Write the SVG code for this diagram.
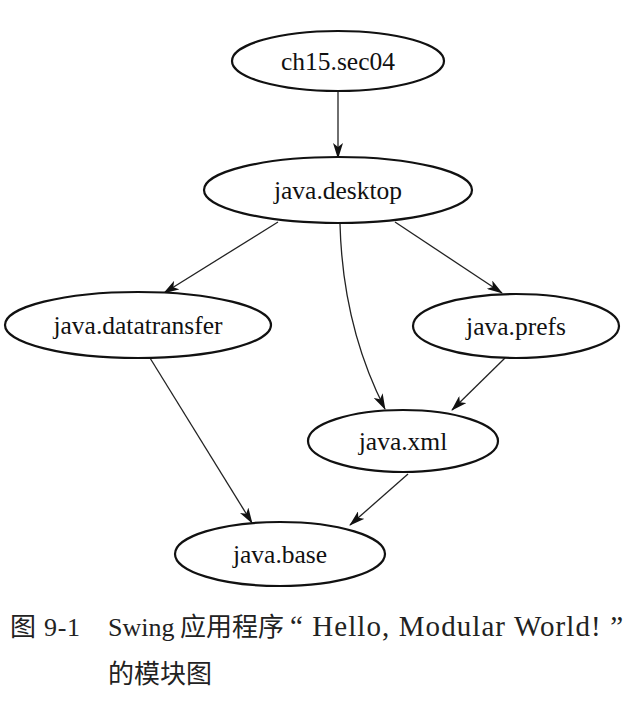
<svg xmlns="http://www.w3.org/2000/svg" width="636" height="703" viewBox="0 0 636 703">
<style>
.node ellipse{fill:#fff;stroke:#111;stroke-width:2.2}
.node text{font-family:"Liberation Serif","Noto Sans CJK SC",serif;font-size:25.5px;fill:#111;text-anchor:middle}
.edge{fill:none;stroke:#222;stroke-width:1.3;marker-end:url(#arr)}
.cap{font-family:"Liberation Serif","Noto Sans CJK SC",serif;font-size:26px;fill:#222}
</style>
<defs>
<marker id="arr" viewBox="0 0 16 10" refX="15" refY="5" markerWidth="16" markerHeight="10" markerUnits="userSpaceOnUse" orient="auto">
<path d="M0,0 L16,5 L0,10 L4,5 Z" fill="#111"/>
</marker>
</defs>
<g id="connectors">
<path class="edge" d="M338,91 L338,158"/>
<path class="edge" d="M278,222 L164,293"/>
<path class="edge" d="M395,222 L502,293"/>
<path class="edge" d="M340,224 C342,300 360,360 385,409"/>
<path class="edge" d="M505,358 L452,410"/>
<path class="edge" d="M150,358 L252,523"/>
<path class="edge" d="M408,474 L350,525"/>
</g>
<g id="n-ch15" class="node"><ellipse cx="338" cy="61" rx="106" ry="30"/><text x="338" y="70">ch15.sec04</text></g>
<g id="n-desktop" class="node"><ellipse cx="338" cy="190" rx="134" ry="33"/><text x="338" y="199">java.desktop</text></g>
<g id="n-datatransfer" class="node"><ellipse cx="138" cy="325" rx="133" ry="33"/><text x="138" y="334">java.datatransfer</text></g>
<g id="n-prefs" class="node"><ellipse cx="516" cy="326" rx="103" ry="32"/><text x="516" y="335">java.prefs</text></g>
<g id="n-xml" class="node"><ellipse cx="403" cy="441" rx="95" ry="31"/><text x="403" y="450">java.xml</text></g>
<g id="n-base" class="node"><ellipse cx="280" cy="554" rx="105" ry="32"/><text x="280" y="563">java.base</text></g>
<text class="cap" x="10" y="636" textLength="70" lengthAdjust="spacing">图 9-1</text>
<text class="cap" x="108" y="636"><tspan>Swing</tspan><tspan x="180">应用程序</tspan><tspan x="290" style="font-size:29px" textLength="333" lengthAdjust="spacing">“ Hello, Modular World! ”</tspan></text>
<text class="cap" x="108" y="683">的模块图</text>
</svg>
